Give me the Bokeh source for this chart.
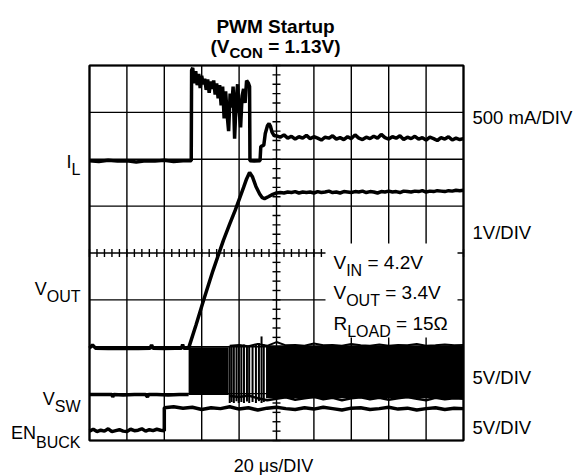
import numpy as np
from bokeh.plotting import figure
from bokeh.models import Label, Range1d
from bokeh.embed import file_html
from bokeh.resources import INLINE

# ---------------- data (x in divisions of 20 us, y in screen divisions) -------------
GRID_X = [0, 1, 2, 3, 4, 5, 6, 7, 8, 9, 10]
GRID_Y = [0, 1, 2, 3, 4, 5, 6, 7, 8]

# Inductor current I_L (500 mA/DIV)
IL_X = [0.0, 0.25, 0.5, 0.75, 1.0, 1.25, 1.5, 1.75, 2.0, 2.25, 2.5, 2.72,
        2.73, 2.76, 2.80, 2.84, 2.88, 2.92, 2.96, 3.00, 3.04, 3.08, 3.12, 3.16,
        3.20, 3.24, 3.28, 3.32, 3.36, 3.40, 3.44, 3.48, 3.52, 3.56, 3.60, 3.64,
        3.68, 3.72, 3.76, 3.80, 3.84, 3.88, 3.92, 3.96, 4.00, 4.04, 4.08, 4.12,
        4.16, 4.20, 4.25, 4.28,
        4.29, 4.40, 4.56, 4.58, 4.66, 4.70, 4.76, 4.80, 4.84, 4.88, 4.94]
IL_Y = [5.97, 5.95, 5.98, 5.96, 5.97, 5.94, 5.97, 5.96, 5.98, 5.95, 5.97, 5.97,
        7.90, 7.95, 7.62, 7.88, 7.58, 7.82, 7.52, 7.78, 7.60, 7.72, 7.48, 7.70,
        7.42, 7.66, 7.50, 7.68, 7.38, 7.62, 7.30, 7.58, 7.15, 7.55, 6.87, 7.45,
        6.95, 6.60, 7.40, 7.10, 7.55, 6.44, 7.25, 7.60, 7.05, 6.68, 7.35, 7.50,
        7.20, 7.68, 7.62, 7.55,
        5.97, 5.96, 5.97, 6.27, 6.30, 6.55, 6.72, 6.76, 6.70, 6.58, 6.50]
IL_SETTLE_X = [round(5.0 + 0.1 * i, 2) for i in range(51)]
IL_SETTLE_Y = [6.50, 6.47, 6.52, 6.45, 6.49, 6.43, 6.48, 6.45, 6.51, 6.44,
               6.48, 6.45, 6.41, 6.47, 6.45, 6.50, 6.43, 6.46, 6.42, 6.48,
               6.44, 6.52, 6.45, 6.42, 6.47, 6.44, 6.49, 6.45, 6.53, 6.46,
               6.43, 6.48, 6.45, 6.50, 6.42, 6.47, 6.44, 6.49, 6.43, 6.46,
               6.41, 6.47, 6.44, 6.40, 6.46, 6.43, 6.48, 6.41, 6.45, 6.42, 6.44]

# Output voltage V_OUT (1V/DIV)
VOUT_X = [0.0, 0.08, 0.16, 0.5, 0.9, 1.3, 1.62, 1.66, 1.70, 2.0, 2.3, 2.46,
          2.49, 2.52, 2.65, 2.85, 3.05, 3.30, 3.58, 3.75, 3.90, 4.02, 4.12,
          4.20, 4.28, 4.36, 4.45, 4.55, 4.62, 4.68, 4.78, 4.90, 5.00]
VOUT_Y = [1.97, 2.04, 1.97, 1.96, 1.97, 1.96, 1.97, 2.04, 1.97, 1.96, 1.97, 1.97,
          2.05, 1.97, 1.97, 2.47, 2.99, 3.62, 4.27, 4.62, 4.92, 5.18, 5.40,
          5.58, 5.72, 5.62, 5.42, 5.26, 5.18, 5.16, 5.20, 5.25, 5.28]
VOUT_SETTLE_X = [round(5.1 + 0.1 * i, 2) for i in range(50)]
VOUT_SETTLE_Y = [5.29, 5.28, 5.30, 5.29, 5.31, 5.28, 5.30, 5.29, 5.30, 5.28,
                 5.31, 5.29, 5.30, 5.32, 5.29, 5.30, 5.28, 5.31, 5.30, 5.29,
                 5.31, 5.30, 5.32, 5.29, 5.31, 5.30, 5.28, 5.31, 5.30, 5.32,
                 5.30, 5.31, 5.29, 5.32, 5.31, 5.30, 5.32, 5.31, 5.33, 5.30,
                 5.32, 5.31, 5.33, 5.32, 5.31, 5.33, 5.32, 5.34, 5.33, 5.34]

# Switch node V_SW (5V/DIV)
VSW_BASE_X = [0.0, 0.3, 0.6, 0.62, 0.65, 0.9, 1.2, 1.5, 1.55, 1.58, 1.8,
              2.1, 2.4, 2.65]
VSW_BASE_Y = [0.98, 0.98, 0.98, 0.93, 0.98, 0.97, 0.98, 0.98, 0.93, 0.98,
              0.98, 0.97, 0.98, 0.98]
VSW_BLOCK1_X = [2.65, 3.72]
VSW_BLOCK1_LO = [0.97, 0.97]
VSW_BLOCK1_HI = [1.99, 1.99]
VSW_SPIKE_X = [3.75, 3.80, 3.86, 3.93, 3.99, 4.06, 4.13, 4.21, 4.27, 4.36,
               4.45, 4.53, 4.60, 4.66]
VSW_SPIKE_LO = [0.80, 0.82, 0.80, 0.84, 0.80, 0.82, 0.80, 0.83, 0.80, 0.82,
                0.80, 0.84, 0.80, 0.82]
VSW_SPIKE_HI = [2.02, 2.02, 2.04, 2.02, 2.03, 2.02, 2.05, 2.02, 2.03, 2.02,
                2.04, 2.08, 2.22, 2.05]
VSW_BLOCK2_X = [4.72, 10.0]
VSW_BLOCK2_LO = [0.90, 0.90]
VSW_BLOCK2_HI = [2.03, 2.03]
VSW_EDGE_X = [round(3.75 + 0.25 * i, 2) for i in range(26)]
VSW_TOP_Y = [2.02, 2.04, 2.01, 2.06, 2.02, 2.10, 2.03, 2.04, 2.02, 2.07,
             2.03, 2.04, 2.02, 2.06, 2.03, 2.02, 2.05, 2.02, 2.04, 2.03,
             2.06, 2.02, 2.03, 2.05, 2.03, 2.04]
VSW_BOT_Y = [0.95, 0.93, 0.96, 0.90, 0.86, 0.89, 0.92, 0.87, 0.90, 0.93,
             0.88, 0.91, 0.86, 0.90, 0.92, 0.88, 0.91, 0.87, 0.90, 0.93,
             0.89, 0.86, 0.91, 0.88, 0.90, 0.89]

# Enable EN_BUCK (5V/DIV)
EN_X = [round(0.1 * i, 2) for i in range(21)] + [round(2.0 + 0.25 * i, 2) for i in range(33)]
EN_Y = [0.20, 0.24, 0.19, 0.22, 0.20, 0.25, 0.19, 0.21, 0.23, 0.20, 0.19,
        0.24, 0.21, 0.22, 0.25, 0.20, 0.23, 0.21, 0.24, 0.22, 0.21,
        0.70, 0.72, 0.69, 0.71, 0.66, 0.70, 0.68, 0.72, 0.67, 0.70, 0.65,
        0.69, 0.71, 0.68, 0.66, 0.70, 0.67, 0.71, 0.68, 0.65, 0.69, 0.70,
        0.66, 0.68, 0.71, 0.67, 0.69, 0.65, 0.68, 0.70, 0.66, 0.69, 0.68]

# ---------------- figure ----------------
FONT = "Liberation Sans"
W, H = 576, 475
X0, Y0, PXX, PXY = 89.0, 440.0, 37.4, 46.875   # screen position of the graticule


def px2x(px):
    return (px - X0) / PXX


def py2y(py):
    return (Y0 - py) / PXY


p = figure(width=W, height=H,
           x_range=Range1d(px2x(0), px2x(W)), y_range=Range1d(py2y(H), py2y(0)),
           x_axis_type=None, y_axis_type=None, output_backend="svg",
           toolbar_location=None, min_border=0, min_border_left=0,
           min_border_right=0, min_border_top=0, min_border_bottom=0)
p.outline_line_color = None
p.background_fill_color = "white"
p.border_fill_color = "white"
p.xgrid.visible = False
p.ygrid.visible = False

# graticule
gx = np.array(GRID_X, dtype=float)
gy = np.array(GRID_Y, dtype=float)
p.segment(x0=gx, y0=min(GRID_Y), x1=gx, y1=max(GRID_Y), line_color="black", line_width=1.4)
p.segment(x0=min(GRID_X), y0=gy, x1=max(GRID_X), y1=gy, line_color="black", line_width=1.4)

# minor ticks on the centre cross
cx = (min(GRID_X) + max(GRID_X)) / 2
cy = (min(GRID_Y) + max(GRID_Y)) / 2
tx = np.round(np.arange(min(GRID_X), max(GRID_X) + 0.001, 0.2), 2)
ty = np.round(np.arange(min(GRID_Y), max(GRID_Y) + 0.001, 0.2), 2)
hx = 4 / PXX
hy = 4 / PXY
p.segment(x0=tx, y0=cy - hy, x1=tx, y1=cy + hy, line_color="black", line_width=1.4)
p.segment(x0=cx - hx, y0=ty, x1=cx + hx, y1=ty, line_color="black", line_width=1.4)

# white box behind the conditions text
p.quad(left=px2x(325), right=px2x(457), bottom=py2y(337), top=py2y(243),
       fill_color="white", line_color=None)

# ---------------- traces ----------------
LW = 3.5
p.line(IL_X + IL_SETTLE_X, IL_Y + IL_SETTLE_Y, line_color="black", line_width=LW)
p.line(VOUT_X + VOUT_SETTLE_X, VOUT_Y + VOUT_SETTLE_Y, line_color="black", line_width=LW)
p.line(VSW_BASE_X, VSW_BASE_Y, line_color="black", line_width=LW)
p.varea(x=VSW_BLOCK1_X, y1=VSW_BLOCK1_LO, y2=VSW_BLOCK1_HI, fill_color="black")
p.varea(x=VSW_BLOCK2_X, y1=VSW_BLOCK2_LO, y2=VSW_BLOCK2_HI, fill_color="black")
p.segment(x0=VSW_SPIKE_X, y0=VSW_SPIKE_LO, x1=VSW_SPIKE_X, y1=VSW_SPIKE_HI,
          line_color="black", line_width=2)
p.line(VSW_EDGE_X, VSW_TOP_Y, line_color="black", line_width=2)
p.line(VSW_EDGE_X, VSW_BOT_Y, line_color="black", line_width=2.5)
p.line(EN_X, EN_Y, line_color="black", line_width=LW)

# outer frame of the graticule
p.quad(left=min(GRID_X), right=max(GRID_X), bottom=min(GRID_Y), top=max(GRID_Y),
       fill_color=None, line_color="black", line_width=2.2)

# ---------------- texts ----------------
W_REG = {"V": 667, "I": 278, "R": 722, "E": 667, "N": 722, "O": 778, "U": 722,
         "T": 611, "L": 556, "A": 667, "D": 722, "S": 667, "W": 944, "B": 667,
         "C": 722, "K": 667, " ": 278, "=": 584, ".": 278, "(": 333, ")": 333}


def tw(s, size):
    return sum(W_REG.get(c, 556) for c in s) * size / 1000.0


def label(text, px, py, size, bold=False, align="left"):
    p.add_layout(Label(x=px2x(px), y=py2y(py), text=text, text_font=FONT,
                       text_font_size=f"{size}px",
                       text_font_style="bold" if bold else "normal",
                       text_align=align, text_baseline="alphabetic",
                       text_color="black"))


def sub_label(main, sub, rest, px, py, size=18, sub_size=16, drop=8, bold=False):
    """main text, lowered subscript, then the rest (leading space as a gap)."""
    label(main, px, py, size, bold)
    x2 = px + tw(main, size)
    label(sub, x2, py + drop, sub_size, bold)
    if rest:
        gap = tw(" ", size) if rest.startswith(" ") else 0
        label(rest.lstrip(" "), x2 + tw(sub, sub_size) + gap, py, size, bold)


# title
label("PWM Startup", 275, 26, 19, bold=True, align="center")
t_w = tw("(V", 19) + tw("CON", 15) + tw(" = 1.13V)", 19)
sub_label("(V", "CON", " = 1.13V)", 275 - t_w / 2, 46, 19, 15, 6, bold=True)

# left channel names (right edge at px 80)
sub_label("I", "L", "", 80 - tw("I", 18) - tw("L", 16), 161)
sub_label("V", "OUT", "", 80 - tw("V", 18) - tw("OUT", 16), 288)
sub_label("V", "SW", "", 80 - tw("V", 18) - tw("SW", 16), 398)
sub_label("EN", "BUCK", "", 80 - tw("EN", 18) - tw("BUCK", 16), 432, drop=10)

# right scale labels
label("500 mA/DIV", 472, 117, 18.5)
label("1V/DIV", 472, 232, 18.5)
label("5V/DIV", 472, 377, 18.5)
label("5V/DIV", 472, 427, 18.5)

# conditions
sub_label("V", "IN", " = 4.2V", 333, 262, 19, 16)
sub_label("V", "OUT", " = 3.4V", 333, 292, 19, 16)
sub_label("R", "LOAD", " = 15\u03a9", 333, 323, 19, 16)

# time base
label("20 \u03bcs/DIV", 273, 465, 18, align="center")

open("out.html", "w").write(file_html(p, INLINE))
